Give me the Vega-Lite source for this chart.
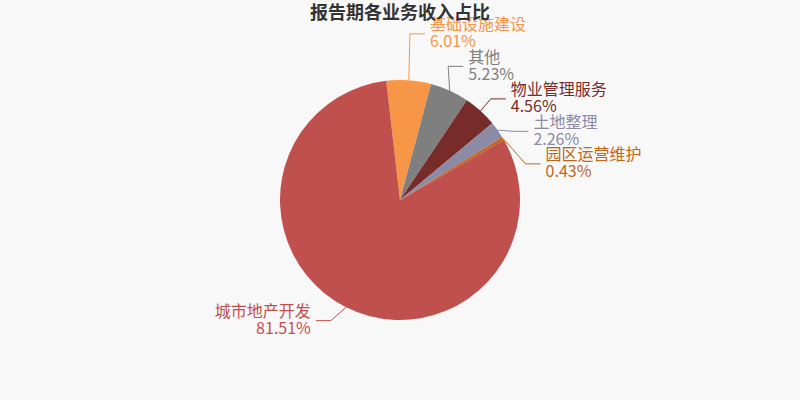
{
  "$schema": "https://vega.github.io/schema/vega-lite/v6.json",
  "description": "报告期各业务收入占比 pie chart",
  "width": 800,
  "height": 400,
  "autosize": {"type": "none"},
  "padding": 0,
  "background": "#f8f8f8",
  "title": {
    "text": "报告期各业务收入占比",
    "fontSize": 18,
    "fontWeight": "bold",
    "color": "#333333",
    "font": "Noto Sans CJK SC",
    "anchor": "middle",
    "frame": "group",
    "offset": -23
  },
  "config": {"view": {"stroke": null}},
  "data": {
    "values": [
      {"业务": "基础设施建设", "占比": 6.01},
      {"业务": "其他", "占比": 5.23},
      {"业务": "物业管理服务", "占比": 4.56},
      {"业务": "土地整理", "占比": 2.26},
      {"业务": "园区运营维护", "占比": 0.43},
      {"业务": "城市地产开发", "占比": 81.51}
    ]
  },
  "transform": [
    {"window": [{"op": "sum", "field": "占比", "as": "累计"}]},
    {"joinaggregate": [{"op": "sum", "field": "占比", "as": "总计"}]},
    {"calculate": "datum['累计'] - datum['占比']", "as": "起"},
    {"calculate": "-0.1152 + 2 * PI * (datum['累计'] - datum['占比'] / 2) / datum['总计']", "as": "中角"},
    {"calculate": "sin(datum['中角'])", "as": "sa"},
    {"calculate": "cos(datum['中角'])", "as": "ca"},
    {"calculate": "datum.sa >= 0 ? 1 : -1", "as": "side"},
    {"calculate": "-135 * datum.ca", "as": "ny"},
    {"window": [{"op": "row_number", "as": "k"}], "sort": [{"field": "ny"}], "groupby": ["side"]},
    {"calculate": "datum.ny - 32.5 * datum.k", "as": "v"},
    {"window": [{"op": "max", "field": "v", "as": "vmax"}], "sort": [{"field": "ny"}], "groupby": ["side"], "frame": [null, 0]},
    {"calculate": "datum.vmax + 32.5 * datum.k", "as": "fy"},
    {"calculate": "datum.fy - datum.ny", "as": "shift"},
    {"joinaggregate": [{"op": "mean", "field": "shift", "as": "meanshift"}], "groupby": ["side"]},
    {"calculate": "datum.fy - datum.meanshift", "as": "ly"},
    {"calculate": "abs(datum.ly) < 135 ? datum.side * sqrt(22500 - datum.ly * datum.ly) : 135 * datum.sa + datum.side * 20", "as": "lx"},
    {"calculate": "120 * datum.sa", "as": "x0"},
    {"calculate": "-120 * datum.ca", "as": "y0"},
    {"calculate": "datum.lx - 20 * datum.side", "as": "x1"},
    {"calculate": "datum.lx - 5 * datum.side", "as": "x2"},
    {"calculate": "datum['业务'] + '\\n' + format(datum['占比'], '.2f') + '%'", "as": "标签"}
  ],
  "encoding": {
    "color": {
      "field": "业务",
      "type": "nominal",
      "scale": {
        "domain": ["基础设施建设", "其他", "物业管理服务", "土地整理", "园区运营维护", "城市地产开发"],
        "range": ["#f79646", "#7f7f7f", "#772c2a", "#8c8aa5", "#c0661a", "#c0504d"]
      },
      "legend": null
    }
  },
  "layer": [
    {
      "mark": {"type": "arc", "outerRadius": 120},
      "encoding": {
        "theta": {"field": "起", "type": "quantitative", "scale": {"domain": [0, 100], "range": [-0.1152, 6.168]}},
        "theta2": {"field": "累计"}
      }
    },
    {
      "mark": {"type": "rule", "strokeWidth": 1},
      "encoding": {
        "x": {"field": "x0", "type": "quantitative", "scale": {"domain": [-400, 400], "range": [0, 800], "zero": false, "nice": false}, "axis": null},
        "y": {"field": "y0", "type": "quantitative", "scale": {"domain": [-200, 200], "range": [0, 400], "zero": false, "nice": false}, "axis": null},
        "x2": {"field": "x1"},
        "y2": {"field": "ly"}
      }
    },
    {
      "mark": {"type": "rule", "strokeWidth": 1},
      "encoding": {
        "x": {"field": "x1", "type": "quantitative", "axis": null},
        "y": {"field": "ly", "type": "quantitative", "axis": null},
        "x2": {"field": "x2"}
      }
    },
    {
      "transform": [{"filter": "datum.side > 0"}],
      "mark": {"type": "text", "align": "left", "baseline": "middle", "dy": -8.5, "lineBreak": "\n", "fontSize": 16, "lineHeight": 17, "font": "Noto Sans CJK SC"},
      "encoding": {
        "x": {"field": "lx", "type": "quantitative", "axis": null},
        "y": {"field": "ly", "type": "quantitative", "axis": null},
        "text": {"field": "标签"}
      }
    },
    {
      "transform": [{"filter": "datum.side < 0"}],
      "mark": {"type": "text", "align": "right", "baseline": "middle", "dy": -8.5, "lineBreak": "\n", "fontSize": 16, "lineHeight": 17, "font": "Noto Sans CJK SC"},
      "encoding": {
        "x": {"field": "lx", "type": "quantitative", "axis": null},
        "y": {"field": "ly", "type": "quantitative", "axis": null},
        "text": {"field": "标签"}
      }
    }
  ]
}
